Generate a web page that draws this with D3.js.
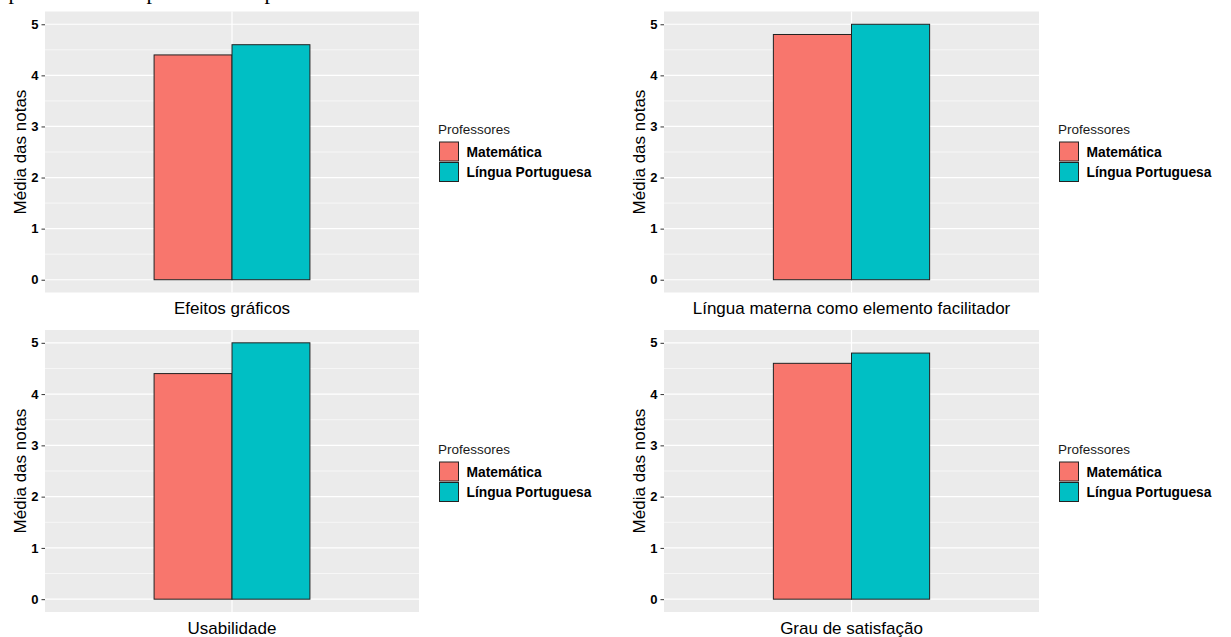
<!DOCTYPE html>
<html><head><meta charset="utf-8">
<script src="https://cdn.jsdelivr.net/npm/d3@7"></script>
<style>body{margin:0;background:#fff}svg{display:block}</style>
</head><body>
<script>
const categories = ["Efeitos gráficos", "Língua materna como elemento facilitador", "Usabilidade", "Grau de satisfação"];
const series = ["Matemática", "Língua Portuguesa"];
const matematica = [4.4, 4.8, 4.4, 4.6];
const linguaPortuguesa = [4.6, 5.0, 5.0, 4.8];
const yTicks = [0, 1, 2, 3, 4, 5];
const yMinor = [0.5, 1.5, 2.5, 3.5, 4.5];
const colors = ["#F8766D", "#00BFC4"];

const W = 1231, H = 637;
const svg = d3.select("body").append("svg").attr("width", W).attr("height", H);

// cut-off fragments of the document text above the figure
[14, 152, 270].forEach(x => {
  svg.append("text").attr("x", x).attr("y", -1).attr("text-anchor", "middle")
    .attr("font-family", "Liberation Serif").attr("font-size", 22).attr("fill", "#000").text("p");
});

const panels = [
  {x0: 45, x1: 419, y0: 11.5, y1: 292.5, lx: 438, ly: 0},
  {x0: 664, x1: 1039, y0: 11.5, y1: 292.5, lx: 1058, ly: 0},
  {x0: 45, x1: 419, y0: 330, y1: 612, lx: 438, ly: 320},
  {x0: 664, x1: 1039, y0: 330, y1: 612, lx: 1058, ly: 320}
];

panels.forEach((p, i) => {
  const vals = [matematica[i], linguaPortuguesa[i]];
  const y = d3.scaleLinear().domain([-0.25, 5.25]).range([p.y1, p.y0]);
  const x = d3.scaleLinear().domain([0.4, 1.6]).range([p.x0, p.x1]);
  const xb = d3.scaleBand().domain(series).range([x(0.75), x(1.25)]).padding(0);
  const g = svg.append("g");
  g.append("rect").attr("x", p.x0).attr("y", p.y0).attr("width", p.x1 - p.x0).attr("height", p.y1 - p.y0).attr("fill", "#EBEBEB");
  g.selectAll(".mn").data(yMinor).join("line")
    .attr("x1", p.x0).attr("x2", p.x1).attr("y1", d => y(d)).attr("y2", d => y(d))
    .attr("stroke", "#fff").attr("stroke-width", 0.6);
  g.selectAll(".mj").data(yTicks).join("line")
    .attr("x1", p.x0).attr("x2", p.x1).attr("y1", d => y(d)).attr("y2", d => y(d))
    .attr("stroke", "#fff").attr("stroke-width", 1.2);
  g.append("line").attr("x1", x(1)).attr("x2", x(1)).attr("y1", p.y0).attr("y2", p.y1)
    .attr("stroke", "#fff").attr("stroke-width", 1.2);
  // bars
  g.selectAll(".bar").data(series).join("rect")
    .attr("x", d => xb(d)).attr("width", xb.bandwidth())
    .attr("y", (d, j) => y(vals[j])).attr("height", (d, j) => y(0) - y(vals[j]))
    .attr("fill", (d, j) => colors[j]).attr("stroke", "#222").attr("stroke-width", 1);
  // y axis
  const ax = g.append("g").attr("transform", `translate(${p.x0},0)`)
    .call(d3.axisLeft(y).tickValues(yTicks).tickFormat(d3.format("d")).tickSize(3.5).tickPadding(3));
  ax.select(".domain").remove();
  ax.selectAll(".tick line").attr("stroke", "#333").attr("stroke-width", 1);
  ax.selectAll(".tick text").attr("fill", "#000").attr("font-family", "Liberation Sans, Arial")
    .attr("font-size", 13).attr("font-weight", "bold");
  // y title
  g.append("text").attr("transform", `translate(${p.x0 - 19.5},${(p.y0 + p.y1) / 2}) rotate(-90)`)
    .attr("text-anchor", "middle")
    .attr("font-family", "Liberation Sans, Arial").attr("font-size", 17).attr("fill", "#000")
    .text("Média das notas");
  // x title (category)
  g.append("text").attr("x", x(1)).attr("y", p.y1 + 21.5).attr("text-anchor", "middle")
    .attr("font-family", "Liberation Sans, Arial").attr("font-size", 17).attr("fill", "#000")
    .text(categories[i]);
  // legend
  const lg = g.append("g").attr("transform", `translate(${p.lx},${p.ly})`);
  lg.append("text").attr("x", 0).attr("y", 133.5).attr("font-family", "Liberation Sans, Arial")
    .attr("font-size", 13.5).attr("fill", "#1a1a1a").text("Professores");
  series.forEach((s, j) => {
    lg.append("rect").attr("x", 1.5).attr("y", 142 + j * 20.5).attr("width", 19).attr("height", 19)
      .attr("fill", colors[j]).attr("stroke", "#222").attr("stroke-width", 1);
    lg.append("text").attr("x", 28.5).attr("y", 156.5 + j * 20.5).attr("font-family", "Liberation Sans, Arial")
      .attr("font-size", 13.8).attr("font-weight", "bold").attr("fill", "#000").text(s);
  });
});
</script>
</body></html>
